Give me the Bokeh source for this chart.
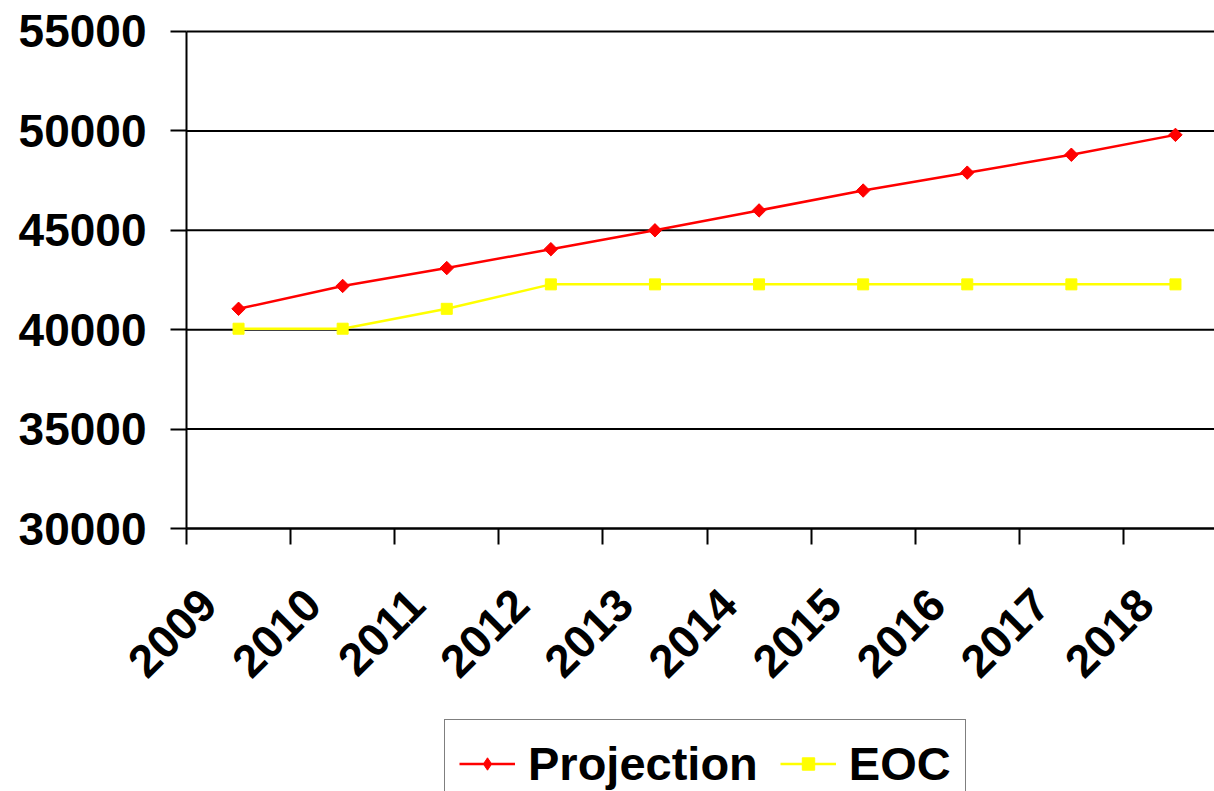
import math
from bokeh.plotting import figure
from bokeh.models import FixedTicker, Range1d, Legend, LegendItem
from bokeh.embed import file_html
from bokeh.resources import INLINE

years = ["2009", "2010", "2011", "2012", "2013", "2014", "2015", "2016", "2017", "2018"]
projection = [41050, 42200, 43100, 44050, 45000, 46000, 47000, 47900, 48800, 49800]
eoc = [40050, 40050, 41050, 42280, 42280, 42280, 42280, 42280, 42280, 42280]
y_ticks = [30000, 35000, 40000, 45000, 50000, 55000]

x = [i + 0.5 for i in range(len(years))]
boundaries = list(range(len(years) + 1))
LABEL_SHIFT = 0.29  # rotated labels sit left of the category centre
label_pos = [xv - LABEL_SHIFT for xv in x]

FONT = "Liberation Sans"
X_END = 9.875

# The frame fills the whole canvas; axes are pinned at x=0 / y=30000 so that the
# rotated labels and the legend (cut by the bottom edge) are not clipped.
p = figure(width=1214, height=791, output_backend="svg", toolbar_location=None,
           x_range=Range1d(-1.7867, X_END), y_range=Range1d(16771, 56559),
           min_border_left=0, min_border_right=0, min_border_top=0,
           min_border_bottom=0)
p.outline_line_color = None
p.background_fill_color = "white"
p.border_fill_color = "white"

# horizontal grid lines, only across the plot area
p.xgrid.visible = False
p.ygrid.visible = False
p.segment(x0=[0] * len(y_ticks), y0=y_ticks, x1=[X_END] * len(y_ticks), y1=y_ticks,
          line_color="black", line_width=2)

# y axis
p.yaxis.fixed_location = 0
p.yaxis.ticker = FixedTicker(ticks=y_ticks)
p.yaxis.bounds = (30000, 55000)
p.yaxis.major_label_text_font = FONT
p.yaxis.major_label_text_font_style = "bold"
p.yaxis.major_label_text_font_size = "46px"
p.yaxis.major_label_text_color = "black"
p.yaxis.major_tick_out = 16
p.yaxis.major_tick_in = 0
p.yaxis.minor_tick_line_color = None
p.yaxis.major_tick_line_width = 2
p.yaxis.major_tick_line_color = "black"
p.yaxis.axis_line_width = 2
p.yaxis.axis_line_color = "black"
p.yaxis.major_label_standoff = 24

# x axis
p.xaxis.fixed_location = 30000
p.xaxis.bounds = (0, X_END)
p.xaxis.ticker = FixedTicker(ticks=label_pos, minor_ticks=boundaries)
p.xaxis.major_label_overrides = {xv: yr for xv, yr in zip(label_pos, years)}
p.xaxis.major_label_text_font = FONT
p.xaxis.major_label_text_font_style = "bold"
p.xaxis.major_label_text_font_size = "46px"
p.xaxis.major_label_text_color = "black"
p.xaxis.major_label_orientation = math.pi / 4
p.xaxis.major_tick_line_color = None
p.xaxis.major_tick_out = 16
p.xaxis.major_tick_in = 0
p.xaxis.minor_tick_out = 16
p.xaxis.minor_tick_in = 0
p.xaxis.minor_tick_line_width = 2
p.xaxis.minor_tick_line_color = "black"
p.xaxis.axis_line_width = 2
p.xaxis.axis_line_color = "black"
p.xaxis.major_label_standoff = 52

r1 = p.line(x, projection, line_color="#FF0000", line_width=2.5)
# diamond used for the legend key; covered by the rotated square in the plot
k1 = p.scatter(x, projection, marker="diamond", size=12,
               fill_color="#FF0000", line_color="#FF0000")
m1 = p.scatter(x, projection, marker="square", angle=math.pi / 4, size=9.5,
               fill_color="#FF0000", line_color="#FF0000")
r2 = p.line(x, eoc, line_color="#FFFF00", line_width=2.5)
m2 = p.scatter(x, eoc, marker="square", size=11, fill_color="#FFFF00", line_color="#FFFF00")

legend = Legend(items=[LegendItem(label="Projection", renderers=[r1, k1]),
                       LegendItem(label="EOC", renderers=[r2, m2])],
                orientation="horizontal", location=(444, -17))
legend.label_text_font = FONT
legend.label_text_font_style = "bold"
legend.label_text_font_size = "47px"
legend.label_text_color = "black"
legend.padding = 14
legend.glyph_width = 56
legend.glyph_height = 31
legend.label_height = 59
legend.label_standoff = 13
legend.spacing = 22
legend.margin = 0
legend.border_line_color = "black"
legend.border_line_width = 1.5
legend.background_fill_color = "white"
legend.background_fill_alpha = 1
p.add_layout(legend)

open("out.html", "w").write(file_html(p, INLINE))
